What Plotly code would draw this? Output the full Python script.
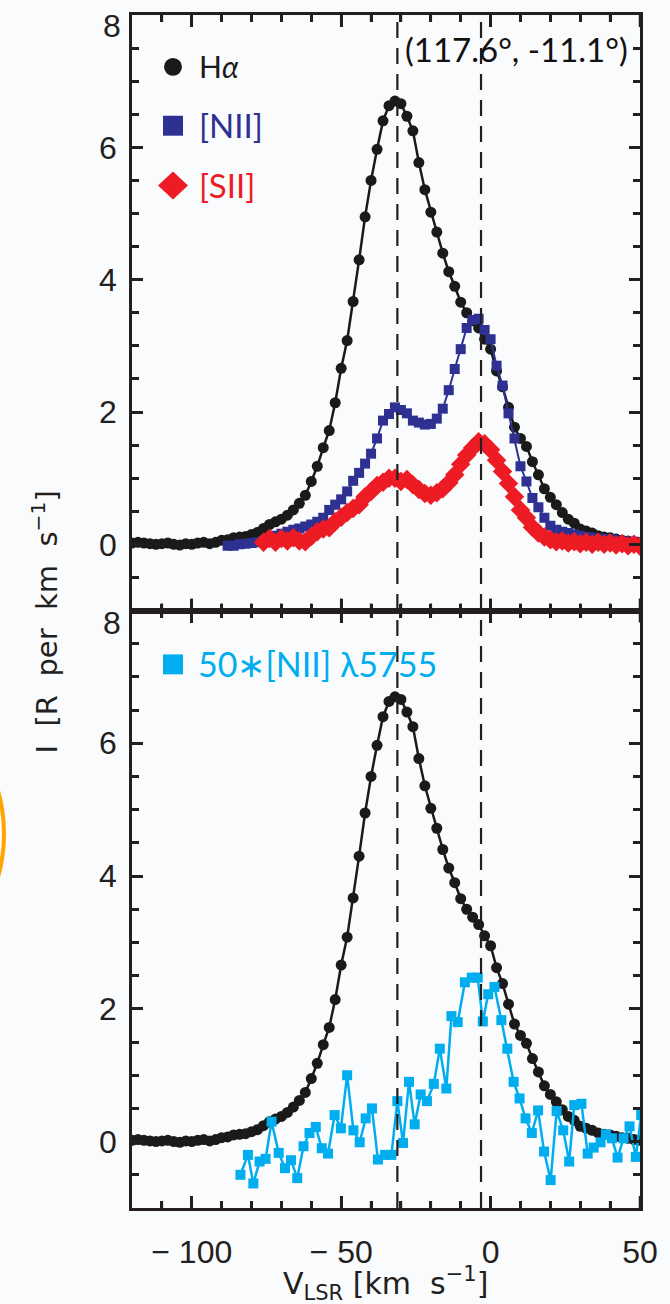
import plotly.graph_objects as go

# ---------------- spectra (velocity in km/s, intensity in R per km/s) ----------------
ha_v = [-120, -118, -116, -114, -112, -110, -108, -106, -104, -102, -100, -98, -96, -94, -92,
        -90, -88, -86, -84, -82, -80, -78, -76, -74, -72, -70, -68, -66, -64, -62, -60, -58,
        -56, -54, -52, -50, -48, -46, -44, -42, -40, -38, -36, -34, -32, -30, -28, -26, -24,
        -22, -20, -18, -16, -14, -12, -10, -8, -6, -4, -2, 0, 2, 4, 6, 8, 10, 12, 14, 16, 18,
        20, 22, 24, 26, 28, 30, 32, 34, 36, 38, 40, 42, 44, 46, 48, 50]
ha_i = [0.02, 0.03, 0.02, 0.01, 0.00, 0.01, 0.02, 0.00, -0.01, 0.01, 0.00, 0.02, 0.03, 0.01,
        0.03, 0.06, 0.07, 0.10, 0.11, 0.12, 0.15, 0.18, 0.24, 0.30, 0.34, 0.38, 0.44, 0.52,
        0.62, 0.74, 0.95, 1.18, 1.46, 1.72, 2.14, 2.66, 3.08, 3.67, 4.30, 4.95, 5.50, 5.97,
        6.40, 6.63, 6.70, 6.66, 6.47, 6.25, 5.77, 5.36, 5.02, 4.72, 4.40, 4.12, 3.90, 3.66,
        3.50, 3.38, 3.27, 3.10, 2.95, 2.62, 2.38, 2.07, 1.77, 1.60, 1.48, 1.25, 1.05, 0.84,
        0.71, 0.60, 0.48, 0.38, 0.32, 0.23, 0.20, 0.17, 0.13, 0.11, 0.10, 0.08, 0.06, 0.05,
        0.03, 0.02]

nii_v = [-88, -86, -84, -82, -80, -78, -76, -74, -72, -70, -68, -66, -64, -62, -60, -58, -56,
         -54, -52, -50, -48, -46, -44, -42, -40, -38, -36, -34, -32, -30, -28, -26, -24, -22,
         -20, -18, -16, -14, -12, -10, -8, -6, -4, -2, 0, 2, 4, 6, 8, 10, 12, 14, 16, 18, 20,
         22, 24, 26, 28, 30, 32, 34, 36, 38, 40, 42, 44, 46, 48, 50]
nii_i = [-0.02, -0.02, 0.00, 0.01, 0.02, 0.03, 0.05, 0.09, 0.13, 0.16, 0.19, 0.22, 0.24, 0.27,
         0.30, 0.34, 0.40, 0.52, 0.60, 0.68, 0.80, 0.96, 1.08, 1.22, 1.37, 1.60, 1.87, 1.97,
         2.07, 2.03, 1.98, 1.87, 1.84, 1.81, 1.82, 1.90, 2.05, 2.33, 2.65, 2.95, 3.27, 3.39,
         3.41, 3.24, 3.10, 2.70, 2.40, 1.98, 1.60, 1.18, 0.95, 0.70, 0.56, 0.40, 0.28, 0.22,
         0.19, 0.17, 0.15, 0.13, 0.11, 0.10, 0.09, 0.08, 0.08, 0.06, 0.05, 0.04, 0.04, 0.03]

sii_v = [-76, -74, -72, -70, -68, -66, -64, -62, -60, -58, -56, -54, -52, -50, -48, -46, -44,
         -42, -40, -38, -36, -34, -32, -30, -28, -26, -24, -22, -20, -18, -16, -14, -12, -10,
         -8, -6, -4, -2, 0, 2, 4, 6, 8, 10, 12, 14, 16, 18, 20, 22, 24, 26, 28, 30, 32, 34, 36,
         38, 40, 42, 44, 46, 48, 50]
sii_i = [0.03, 0.09, 0.03, 0.09, 0.05, 0.10, 0.05, 0.04, 0.12, 0.19, 0.23, 0.25, 0.34, 0.41,
         0.48, 0.54, 0.60, 0.72, 0.80, 0.89, 0.94, 1.00, 1.00, 0.95, 0.98, 0.90, 0.83, 0.77,
         0.74, 0.78, 0.84, 0.93, 1.05, 1.21, 1.35, 1.46, 1.55, 1.52, 1.43, 1.27, 1.10, 0.92,
         0.72, 0.52, 0.40, 0.26, 0.17, 0.11, 0.07, 0.04, 0.05, 0.02, 0.04, 0.01, 0.03, 0.00,
         0.03, 0.00, 0.02, -0.01, 0.01, -0.02, 0.00, -0.03]

# 50 x [NII] 5755
n5755_v = [-83.7, -81.2, -79.4, -77.3, -75.3, -73.3, -70.9, -68.8, -66.8, -64.7, -62.6, -60.6,
           -58.5, -56.5, -54.4, -52.2, -50.1, -48.0, -45.9, -43.8, -41.8, -39.7, -37.7, -35.3,
           -33.2, -31.2, -29.3, -27.3, -25.4, -23.4, -21.3, -19.0, -17.0, -14.8, -13.1, -11.0,
           -8.6, -6.3, -4.3, -2.6, -0.8, 1.3, 3.6, 5.6, 7.7, 9.7, 11.7, 13.8, 15.9, 17.9, 20.1,
           22.1, 24.3, 26.3, 28.0, 30.4, 32.5, 34.5, 36.8, 38.6, 40.6, 42.5, 44.5, 46.5, 48.6,
           50.4]
n5755_i = [-0.50, -0.20, -0.63, -0.30, -0.26, 0.30, -0.17, -0.40, -0.28, -0.55, -0.07, 0.13,
           0.22, -0.10, -0.18, 0.40, 0.20, 1.00, 0.17, -0.01, 0.35, 0.50, -0.27, -0.20, -0.20,
           0.61, -0.02, 0.90, 0.26, 0.71, 0.61, 0.87, 1.40, 0.80, 1.89, 1.80, 2.40, 2.47, 2.47,
           1.81, 2.22, 2.33, 1.83, 1.40, 0.90, 0.65, 0.35, 0.13, 0.47, -0.15, -0.58, 0.46, 0.17,
           -0.30, 0.55, 0.57, -0.18, -0.09, -0.01, 0.11, 0.05, -0.24, 0.05, 0.23, -0.23, 0.40]

# velocity components marked with dashed lines
v_marks = [-31.2, -3.2]

x_ticks = [-100, -50, 0, 50]
x_minor = [-110, -90, -80, -70, -60, -40, -30, -20, -10, 10, 20, 30, 40]
x_tick_text = ["\u2212 100", "\u2212 50", "0", "50"]
y_ticks = [0, 2, 4, 6]
y_minor = [-0.5, 0.5, 1, 1.5, 2.5, 3, 3.5, 4.5, 5, 5.5, 6.5, 7, 7.5]

# ---------------- styling ----------------
INK = "#231F20"
C_HA = "#1A1A1A"
C_NII = "#2E3192"
C_SII = "#ED1C24"
C_5755 = "#00AEEF"
BG = "#FAFBFD"
TICK_FONT = dict(family="Liberation Sans", size=32, color=INK)

W, H = 670, 1304
L, R, T, B = 132, 640, 12, 1208
MID = 609
MAJOR_LEN, MINOR_LEN = 12, 7


def fx(p):
    return (p - L) / (R - L)


def fy(p):
    return (B - p) / (B - T)


split = fy(MID)

fig = go.Figure()

line_kw = dict(mode="lines+markers", showlegend=False, hoverinfo="skip")

# top panel
fig.add_trace(go.Scatter(x=ha_v, y=ha_i, xaxis="x", yaxis="y",
                         line=dict(color=C_HA, width=2.5),
                         marker=dict(symbol="circle", size=11, color=C_HA), **line_kw))
fig.add_trace(go.Scatter(x=nii_v, y=nii_i, xaxis="x", yaxis="y",
                         line=dict(color=C_NII, width=2),
                         marker=dict(symbol="square", size=10, color=C_NII), **line_kw))
fig.add_trace(go.Scatter(x=sii_v, y=sii_i, xaxis="x", yaxis="y",
                         line=dict(color=C_SII, width=2),
                         marker=dict(symbol="diamond", size=15, color=C_SII), **line_kw))

# bottom panel
fig.add_trace(go.Scatter(x=ha_v, y=ha_i, xaxis="x2", yaxis="y2",
                         line=dict(color=C_HA, width=2.5),
                         marker=dict(symbol="circle", size=11, color=C_HA), **line_kw))
fig.add_trace(go.Scatter(x=n5755_v, y=n5755_i, xaxis="x2", yaxis="y2",
                         line=dict(color=C_5755, width=2.5),
                         marker=dict(symbol="square", size=10, color=C_5755), **line_kw))

# empty traces so the tick-only axes on the right side get drawn
for xa, ya in (("x3", "y3"), ("x4", "y4")):
    fig.add_trace(go.Scatter(x=[None], y=[None], xaxis=xa, yaxis=ya, mode="markers",
                             showlegend=False, hoverinfo="skip"))

tick_kw = dict(ticks="inside", tickcolor=INK, tickwidth=2.5)
frame_kw = dict(showgrid=False, zeroline=False, showline=True, linecolor=INK, linewidth=2.5,
                mirror=True)

x_ticks_kw = dict(tick_kw, range=[-120, 50], tickmode="array", tickvals=x_ticks,
                  ticklen=MAJOR_LEN,
                  minor=dict(ticks="inside", tickmode="array", tickvals=x_minor,
                             ticklen=MINOR_LEN, tickcolor=INK, tickwidth=2.5))
y_ticks_kw = dict(tick_kw, range=[-1, 8], tickmode="array", tickvals=y_ticks, ticklen=11,
                  minor=dict(ticks="inside", tickmode="array", tickvals=y_minor, ticklen=7,
                             tickcolor=INK, tickwidth=2.5))

# opposite-side axes that only carry tick marks
bare = dict(showgrid=False, zeroline=False, showline=False, showticklabels=False)

fig.update_layout(
    width=W, height=H,
    margin=dict(l=L, r=W - R, t=T, b=H - B, pad=0),
    paper_bgcolor=BG, plot_bgcolor=BG,
    xaxis=dict(frame_kw, **x_ticks_kw, anchor="y", showticklabels=False),
    yaxis=dict(frame_kw, **y_ticks_kw, anchor="x", domain=[split, 1],
               tickfont=TICK_FONT, ticklabelstandoff=6),
    xaxis2=dict(frame_kw, **x_ticks_kw, anchor="y2", ticktext=x_tick_text, tickfont=TICK_FONT,
                ticklabelstandoff=14),
    yaxis2=dict(frame_kw, **y_ticks_kw, anchor="x2", domain=[0, split],
                tickfont=TICK_FONT, ticklabelstandoff=6),
    xaxis3=dict(bare, **x_ticks_kw, overlaying="x", side="top", anchor="y3"),
    yaxis3=dict(bare, **y_ticks_kw, overlaying="y", side="right", anchor="x3"),
    xaxis4=dict(bare, **x_ticks_kw, overlaying="x2", side="top", anchor="y4"),
    yaxis4=dict(bare, **y_ticks_kw, overlaying="y2", side="right", anchor="x4"),
)

shapes = []
# dashed velocity markers spanning both panels
for v in v_marks:
    shapes.append(dict(type="line", xref="x", yref="paper", x0=v, x1=v, y0=0, y1=1,
                       line=dict(color=INK, width=2.2, dash="16px,10px"), layer="above"))

# velocity tick marks on the horizontal frame edges (top, shared middle edge, bottom)
for vals, ln in ((x_ticks, MAJOR_LEN), (x_minor, MINOR_LEN)):
    for v in vals:
        for p0, p1 in ((T, T + ln), (MID - ln, MID + ln), (B - ln, B)):
            shapes.append(dict(type="line", xref="x", yref="paper", x0=v, x1=v,
                               y0=fy(p1), y1=fy(p0),
                               line=dict(color=INK, width=2.5), layer="above"))

# legend glyphs
shapes.append(dict(type="circle", xref="paper", yref="paper",
                   x0=fx(164), x1=fx(182), y0=fy(73), y1=fy(55),
                   fillcolor=C_HA, line=dict(width=0)))
shapes.append(dict(type="rect", xref="paper", yref="paper",
                   x0=fx(163), x1=fx(183), y0=fy(133), y1=fy(113),
                   fillcolor=C_NII, line=dict(width=0)))
shapes.append(dict(type="path", xref="paper", yref="paper",
                   path=(f"M {fx(158)},{fy(183)} L {fx(173)},{fy(169)} "
                         f"L {fx(188)},{fy(183)} L {fx(173)},{fy(197)} Z"),
                   fillcolor=C_SII, line=dict(width=0)))
shapes.append(dict(type="rect", xref="paper", yref="paper",
                   x0=fx(163), x1=fx(183), y0=fy(673), y1=fy(653),
                   fillcolor=C_5755, line=dict(width=0)))

# orange ring partly visible at the left edge
shapes.append(dict(type="circle", xref="paper", yref="paper",
                   x0=fx(-316), x1=fx(4), y0=fy(993), y1=fy(673),
                   line=dict(color="#FFA500", width=4)))

LEG_FONT = "Lato"
annotations = [
    dict(text="H<i>α</i>", x=fx(197), y=fy(63), font=dict(family=LEG_FONT, size=30, color=C_HA)),
    dict(text="[NII]", x=fx(197), y=fy(122), font=dict(family=LEG_FONT, size=33, color=C_NII)),
    dict(text="[SII]", x=fx(197), y=fy(182), font=dict(family=LEG_FONT, size=33, color=C_SII)),
    dict(text="50\u2217[NII] \u03bb5755", x=fx(196), y=fy(662),
         font=dict(family=LEG_FONT, size=34, color=C_5755)),
    dict(text="(117.6°, -11.1°)", x=fx(403), y=fy(46),
         font=dict(family="Lato", size=33, color="#111111")),
]
for a in annotations:
    a.update(xref="paper", yref="paper", xanchor="left", yanchor="middle", showarrow=False)

# top tick label "8" sits just below the frame corner in each panel
for yref, shift in (("y", -11), ("y2", -12)):
    annotations.append(dict(text="8", xref="paper", yref=yref, x=fx(123), y=8, yshift=shift,
                            xanchor="right", yanchor="middle", showarrow=False,
                            font=TICK_FONT))

# axis titles
annotations.append(dict(text="I\u00a0 [R\u00a0 per\u00a0 km\u00a0 s<sup>\u22121</sup>]",
                        xref="paper", yref="paper", x=fx(45), y=fy(621), textangle=-90,
                        xanchor="center", yanchor="middle", showarrow=False,
                        font=dict(family="DejaVu Sans", size=29, color=INK)))
annotations.append(dict(text="V<sub>LSR</sub> [km\u00a0 s<sup>\u22121</sup>]",
                        xref="paper", yref="paper", x=fx(385), y=fy(1284),
                        xanchor="center", yanchor="middle", showarrow=False,
                        font=dict(family="DejaVu Sans", size=30, color=INK)))

fig.update_layout(shapes=shapes, annotations=annotations)

fig.write_html("out.html")
